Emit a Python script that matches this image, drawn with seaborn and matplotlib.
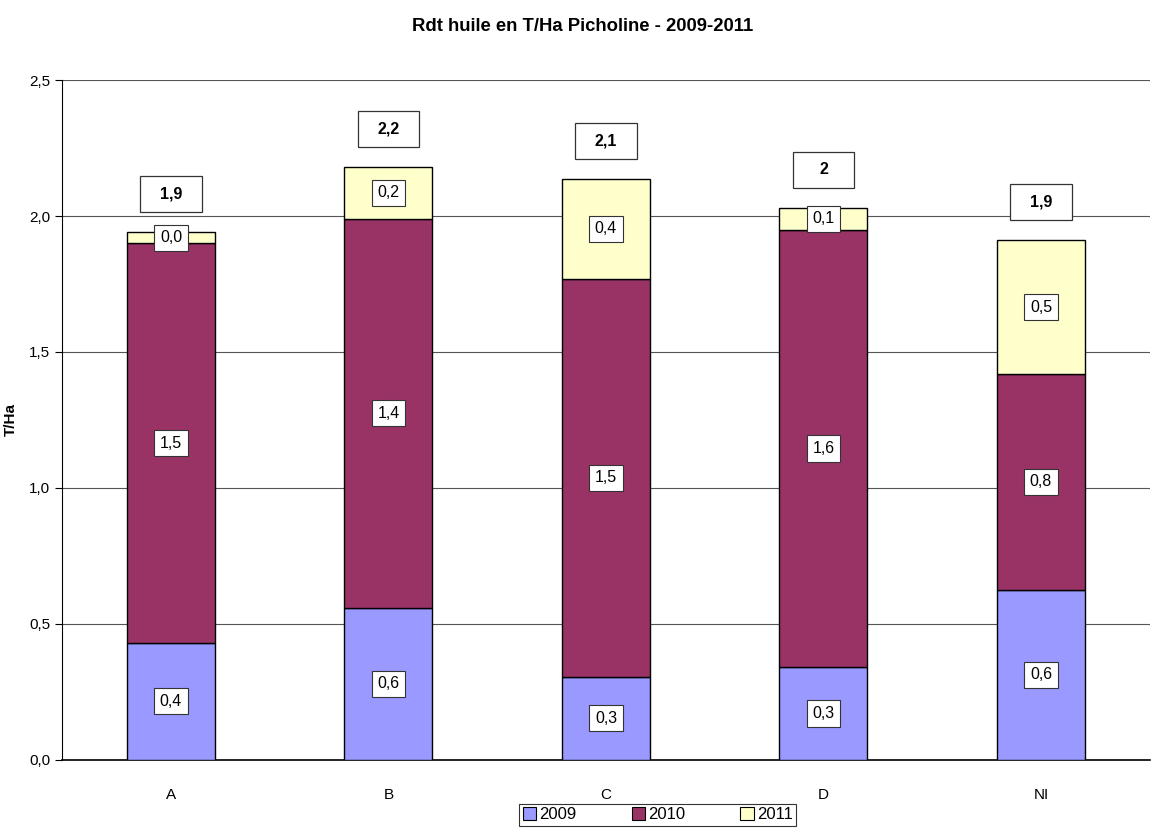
import numpy as np
import pandas as pd
import seaborn as sns
import matplotlib.pyplot as plt
from matplotlib.patches import Patch, Rectangle
from matplotlib.ticker import FuncFormatter, MultipleLocator

categories = ['A', 'B', 'C', 'D', 'NI']
years = ['2009', '2010', '2011']
v2009 = [0.43, 0.56, 0.305, 0.34, 0.625]
v2010 = [1.47, 1.43, 1.465, 1.61, 0.795]
v2011 = [0.04, 0.19, 0.365, 0.08, 0.49]
colors = ['#9999FF', '#993366', '#FFFFCC']

sns.set_theme(style='white')
plt.rcParams['font.family'] = ['Liberation Sans', 'DejaVu Sans']
plt.rcParams['text.color'] = 'black'
plt.rcParams['axes.labelcolor'] = 'black'
plt.rcParams['xtick.color'] = 'black'
plt.rcParams['ytick.color'] = 'black'

fig = plt.figure(figsize=(11.52, 8.34), dpi=100)
ax = fig.add_axes([0.054, 0.089, 0.944, 0.815])

series = [v2009, v2010, v2011]
bottom = np.zeros(len(categories))
for vals, col in zip(series, colors):
    sns.barplot(x=categories, y=vals, bottom=bottom, color=col, saturation=1,
                edgecolor='black', linewidth=1, width=0.405, ax=ax, zorder=3)
    bottom = bottom + np.array(vals)

def fmt(v):
    return f"{v:.1f}".replace('.', ',')

box_small = dict(boxstyle='square,pad=0.35', fc='white', ec='#333333', lw=0.8)

cum = np.zeros(len(categories))
for vals in series:
    for i, v in enumerate(vals):
        ax.text(i, cum[i] + v / 2, fmt(v), ha='center', va='center', fontsize=11.5,
                bbox=box_small, zorder=5)
    cum = cum + np.array(vals)

# total boxes (fixed size, like the spreadsheet labels)
for i, t in enumerate(cum):
    lab = f"{round(t, 1):g}".replace('.', ',')
    yc = t + 0.14
    ax.add_patch(Rectangle((i - 0.142, yc - 0.066), 0.284, 0.132, fc='white',
                           ec='#333333', lw=0.9, zorder=5))
    ax.text(i, yc, lab, ha='center', va='center', fontsize=11.5, fontweight='bold', zorder=6)

ax.set_ylim(0, 2.5)
ax.set_xlim(-0.5, 4.5)
ax.yaxis.set_major_locator(MultipleLocator(0.5))
ax.yaxis.set_major_formatter(FuncFormatter(lambda v, p: fmt(v)))
ax.grid(axis='y', color='#555555', linewidth=0.8, zorder=0)
ax.set_axisbelow(True)
for s in ['top', 'right']:
    ax.spines[s].set_visible(False)
ax.spines['left'].set_color('black')
ax.spines['bottom'].set_color('black')
ax.spines['left'].set_linewidth(0.8)
ax.spines['bottom'].set_linewidth(1.2)

ax.set_xticks(np.arange(-0.5, 5, 1), minor=True)
ax.tick_params(axis='x', which='major', length=0, pad=20, labelsize=11)
ax.tick_params(axis='x', which='minor', length=5, width=0.8, color='black', direction='out')
ax.tick_params(axis='y', length=5, width=0.8, color='black', direction='out', labelsize=11, left=True)
ax.set_xlabel('')
ax.set_ylabel('T/Ha', fontsize=11, fontweight='bold', labelpad=8)

fig.suptitle('Rdt huile en T/Ha Picholine - 2009-2011', fontsize=13.3, fontweight='bold',
             x=0.506, y=0.979)

handles = [Patch(facecolor=c, edgecolor='black', linewidth=0.8) for c in colors]
leg = fig.legend(handles, years, loc='lower center', bbox_to_anchor=(0.571, 0.0), ncol=3,
                 frameon=True, fancybox=False, edgecolor='black', fontsize=12,
                 handlelength=0.8, handleheight=0.8, handletextpad=0.2, columnspacing=3.3,
                 borderpad=0.2)
leg.get_frame().set_linewidth(0.8)

fig.savefig('out.png', dpi=100)
